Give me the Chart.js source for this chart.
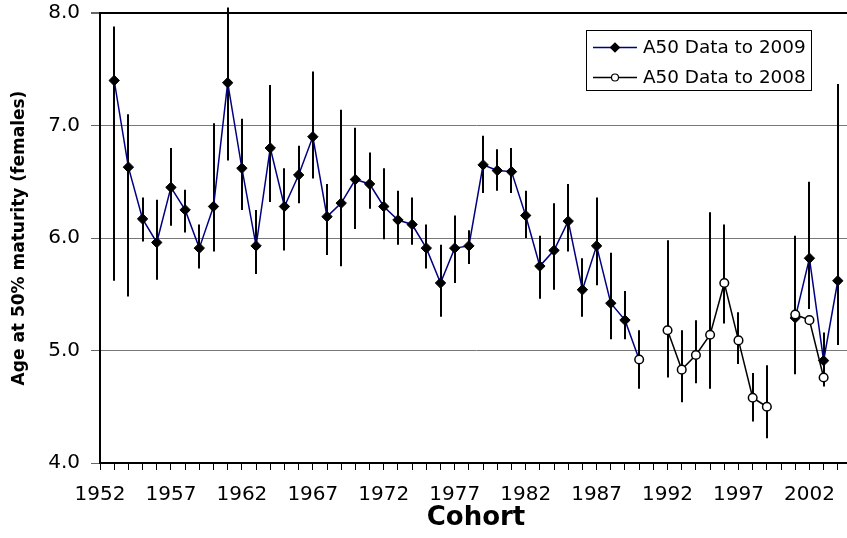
<!DOCTYPE html>
<html>
<head>
<meta charset="utf-8">
<title>A50 by cohort</title>
<script src="https://cdn.jsdelivr.net/npm/chart.js@4/dist/chart.umd.min.js"></script>
<style>
  html, body { margin: 0; padding: 0; background: #fff; overflow: hidden; }
  #wrap { width: 860px; height: 538px; }
</style>
</head>
<body>
<div id="wrap"><canvas id="c" width="860" height="538"></canvas></div>
<script>
// ---- A50 estimates (age at 50% maturity, females) by cohort, with interval bounds

// run including 2009 data
const cohort09 = [1953, 1954, 1955, 1956, 1957, 1958, 1959, 1960, 1961, 1962,
  1963, 1964, 1965, 1966, 1967, 1968, 1969, 1970, 1971, 1972,
  1973, 1974, 1975, 1976, 1977, 1978, 1979, 1980, 1981, 1982,
  1983, 1984, 1985, 1986, 1987, 1988, 1989, 1990,
  2001, 2002, 2003, 2004];
const a50to2009 = [7.40, 6.63, 6.17, 5.96, 6.45, 6.25, 5.91, 6.28, 7.38, 6.62,
  5.93, 6.80, 6.28, 6.56, 6.90, 6.19, 6.31, 6.52, 6.48, 6.28,
  6.16, 6.12, 5.91, 5.60, 5.91, 5.93, 6.65, 6.60, 6.59, 6.20,
  5.75, 5.89, 6.15, 5.54, 5.93, 5.42, 5.27, 4.92,
  5.29, 5.82, 4.91, 5.62];
const hi09 = [7.88, 7.10, 6.36, 6.34, 6.80, 6.43, 6.12, 7.02, 8.05, 7.06,
  6.25, 7.36, 6.62, 6.82, 7.48, 6.48, 7.14, 6.98, 6.76, 6.62,
  6.42, 6.36, 6.12, 5.94, 6.20, 6.07, 6.91, 6.79, 6.80, 6.42,
  6.02, 6.31, 6.48, 5.82, 6.36, 5.87, 5.53, null,
  6.02, 6.50, 5.16, 7.37];
const lo09 = [5.62, 5.48, 5.97, 5.63, 6.11, 6.05, 5.73, 5.88, 6.69, 6.25,
  5.68, 6.32, 5.89, 6.31, 6.53, 5.85, 5.75, 6.08, 6.26, 5.99,
  5.94, 5.94, 5.73, 5.30, 5.60, 5.77, 6.40, 6.42, 6.40, 6.00,
  5.46, 5.54, 5.88, 5.30, 5.58, 5.10, 5.10, null,
  4.79, 5.37, 4.68, 5.05];

// run with data to 2008
const cohort08 = [1990, 1992, 1993, 1994, 1995, 1996, 1997, 1998, 1999, 2001, 2002, 2003];
const a50to2008 = [4.92, 5.18, 4.83, 4.96, 5.14, 5.60, 5.09, 4.58, 4.50, 5.32, 5.27, 4.76];
const hi08 = [5.18, 5.98, 5.18, 5.27, 6.23, 6.12, 5.34, 4.80, 4.87, null, null, null];
const lo08 = [4.66, 4.76, 4.54, 4.71, 4.66, 5.24, 4.88, 4.37, 4.22, null, null, null];

const FONT = "DejaVu Sans";
const pts = (xs, ys) => xs.map((x, i) => ({ x, y: ys[i] }));
// cohorts with no estimate are left as a break in the line
const gap = c => (c.p1.parsed.x - c.p0.parsed.x > 1 ? "transparent" : undefined);

// vertical interval bars, drawn under the lines and markers
const errorBars = {
  id: "errorBars",
  beforeDatasetsDraw(chart) {
    const { ctx, scales: { x, y } } = chart;
    ctx.save();
    ctx.strokeStyle = "#000";
    ctx.lineWidth = 2;
    [[cohort09, lo09, hi09], [cohort08, lo08, hi08]].forEach(([xs, lo, hi]) => {
      xs.forEach((c, i) => {
        if (lo[i] == null || hi[i] == null) return;
        const px = Math.round(x.getPixelForValue(c));
        ctx.beginPath();
        ctx.moveTo(px, y.getPixelForValue(lo[i]));
        ctx.lineTo(px, y.getPixelForValue(hi[i]));
        ctx.stroke();
      });
    });
    ctx.restore();
  },
};

// boxed legend with line + marker swatches
const boxLegend = {
  id: "boxLegend",
  afterDraw(chart) {
    const ctx = chart.ctx;
    const box = { x: 586, y: 30, w: 225, h: 60 };
    ctx.save();
    ctx.fillStyle = "#fff";
    ctx.fillRect(box.x, box.y, box.w, box.h);
    ctx.strokeStyle = "#000";
    ctx.lineWidth = 1;
    ctx.strokeRect(box.x + 0.5, box.y + 0.5, box.w, box.h);
    chart.data.datasets.forEach((ds, i) => {
      const cy = box.y + 17.5 + i * 30;
      ctx.strokeStyle = ds.borderColor;
      ctx.lineWidth = 1.5;
      ctx.beginPath(); ctx.moveTo(box.x + 7, cy); ctx.lineTo(box.x + 51, cy); ctx.stroke();
      const mx = box.x + 29;
      ctx.beginPath();
      if (ds.pointStyle === "rectRot") {
        const r = 4.5;
        ctx.moveTo(mx - r, cy); ctx.lineTo(mx, cy - r); ctx.lineTo(mx + r, cy); ctx.lineTo(mx, cy + r); ctx.closePath();
      } else {
        ctx.arc(mx, cy, 3.5, 0, Math.PI * 2);
      }
      ctx.fillStyle = ds.pointBackgroundColor;
      ctx.fill();
      ctx.strokeStyle = "#000";
      ctx.lineWidth = 1.2;
      ctx.stroke();
      ctx.fillStyle = "#000";
      ctx.font = `18.4px "${FONT}"`;
      ctx.textBaseline = "middle";
      ctx.fillText(ds.label, box.x + 57, cy + 1);
    });
    ctx.restore();
  },
};

new Chart(document.getElementById("c"), {
  type: "line",
  data: {
    datasets: [
      {
        label: "A50 Data to 2009",
        data: pts(cohort09, a50to2009),
        borderColor: "#000080", borderWidth: 1.5, tension: 0,
        segment: { borderColor: gap },
        pointStyle: "rectRot",
        // 1990 value is shared with the 2008 run and shown by its marker
        pointRadius: c => (cohort09[c.dataIndex] === 1990 ? 0 : 5.2),
        pointBackgroundColor: "#000", pointBorderColor: "#000", pointBorderWidth: 1,
        order: 2,
      },
      {
        label: "A50 Data to 2008",
        data: pts(cohort08, a50to2008),
        borderColor: "#000", borderWidth: 1.5, tension: 0,
        segment: { borderColor: gap },
        pointStyle: "circle", pointRadius: 4.3,
        pointBackgroundColor: "#fff", pointBorderColor: "#000", pointBorderWidth: 1.5,
        order: 1,
      },
    ],
  },
  options: {
    responsive: false,
    animation: false,
    events: [],
    layout: { padding: { top: 13, right: 8, left: 0, bottom: 0 } },
    plugins: { legend: { display: false }, tooltip: { enabled: false } },
    scales: {
      x: {
        type: "linear", min: 1952, max: 2005,
        // fixed axis band; edge labels may overhang the plot
        afterFit: s => { s.height = 75; s.paddingLeft = 0; s.paddingRight = 0; },
        border: { color: "#000", width: 2 },
        grid: { drawOnChartArea: false, drawTicks: true, tickLength: 7, color: "#000", lineWidth: 1 },
        ticks: {
          stepSize: 1, autoSkip: false, maxRotation: 0, padding: 13, color: "#000",
          font: { family: FONT, size: 20 },
          callback: v => ((v - 1952) % 5 === 0 ? String(v) : ""),
        },
        title: {
          display: true, text: "Cohort", color: "#000",
          font: { family: FONT, size: 26, weight: "bold" },
          padding: { top: 0, bottom: 4 },
        },
      },
      y: {
        min: 4, max: 8,
        afterFit: s => { s.width = 100; s.paddingTop = 0; s.paddingBottom = 0; },
        border: { color: "#000", width: 2 },
        grid: {
          color: c => (c.tick.value === 8 || c.tick.value === 4 ? "#000" : "#777"),
          lineWidth: c => (c.tick.value === 8 ? 2 : 1),
          tickLength: 9, tickColor: "#666",
        },
        ticks: {
          stepSize: 1, padding: 11, color: "#000",
          font: { family: FONT, size: 20 },
          callback: v => v.toFixed(1),
        },
        title: {
          display: true, text: "Age at 50% maturity (females)", color: "#000",
          font: { family: FONT, size: 17, weight: "bold" },
          padding: { top: 9, bottom: 0 },
        },
      },
    },
  },
  plugins: [errorBars, boxLegend],
});
</script>
</body>
</html>
